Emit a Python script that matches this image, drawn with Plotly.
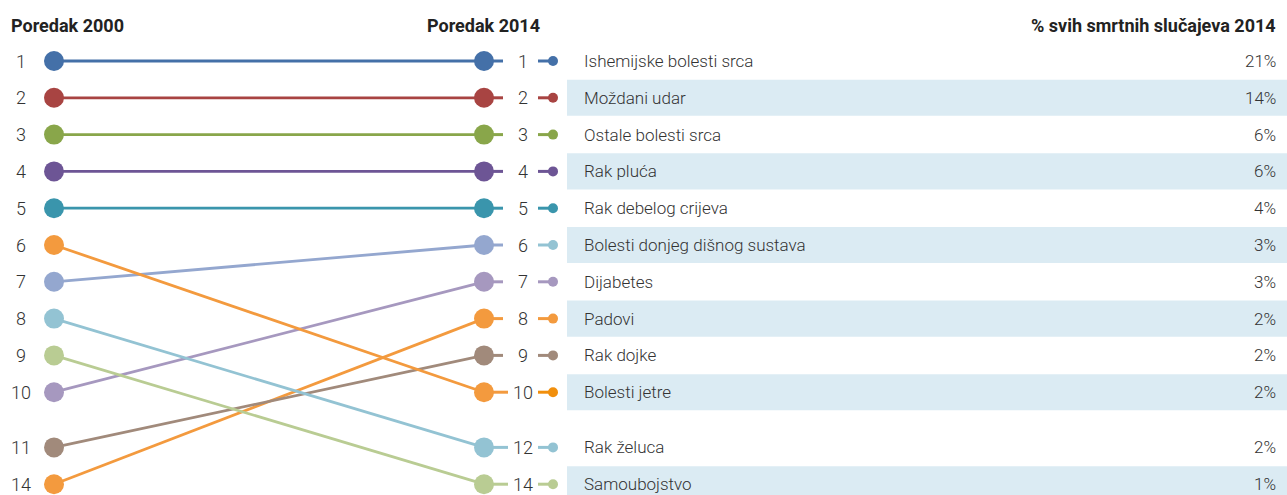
import plotly.graph_objects as go

# ---- data ----
causes = ["Ishemijske bolesti srca", "Moždani udar", "Ostale bolesti srca", "Rak pluća",
          "Rak debelog crijeva", "Bolesti donjeg dišnog sustava", "Dijabetes", "Padovi",
          "Rak dojke", "Bolesti jetre", "Rak želuca", "Samoubojstvo"]
rank_2000 = [1, 2, 3, 4, 5, 7, 10, 14, 11, 6, 8, 9]
rank_2014 = [1, 2, 3, 4, 5, 6, 7, 8, 9, 10, 12, 14]
share_2014 = ["21%", "14%", "6%", "6%", "4%", "3%", "3%", "2%", "2%", "2%", "2%", "1%"]
colors = ["#4470a8", "#a84442", "#89a64a", "#6d5595", "#3a95ac", "#94a7cf", "#a698bf",
          "#f39a3e", "#a18a7b", "#f39a3e", "#93c3d3", "#b9cc93"]
small_colors = ["#4470a8", "#a84442", "#89a64a", "#6d5595", "#3a95ac", "#93c3d3", "#a698bf",
                "#f39a3e", "#a18a7b", "#f18f0c", "#93c3d3", "#b9cc93"]

ticks_2000 = sorted(rank_2000)
ticks_2014 = sorted(rank_2014)


def slot_of(ticks):
    # row positions: one row per rank, extra half-row gap after rank 10
    pos = {}
    for i, r in enumerate(ticks):
        pos[r] = i + (0.5 if i >= 10 else 0)
    return pos


pos2000 = slot_of(ticks_2000)
pos2014 = slot_of(ticks_2014)

FONT = "Roboto, Arial, sans-serif"
TXT = "#333333"

XL, XR = 54, 484
fig = go.Figure()

shapes = []
for i, c in enumerate(causes):
    s = pos2014[rank_2014[i]]
    if i % 2 == 1:
        shapes.append(dict(type="rect", xref="x", yref="y", x0=567, x1=1287,
                           y0=s - 0.49, y1=s + 0.49, fillcolor="#dbebf3",
                           line=dict(width=0), layer="below"))

for i, c in enumerate(causes):
    sl = pos2000[rank_2000[i]]
    sr = pos2014[rank_2014[i]]
    col = colors[i]
    wide = rank_2014[i] >= 10
    fig.add_trace(go.Scatter(x=[XR, 508 if wide else 503], y=[sr, sr], mode="lines",
                             line=dict(color=col, width=3), hoverinfo="skip", showlegend=False))
    fig.add_trace(go.Scatter(x=[XL, XR], y=[sl, sr], mode="lines+markers",
                             line=dict(color=col, width=2.8),
                             marker=dict(size=20, color=col), name=c, showlegend=False))
    fig.add_trace(go.Scatter(x=[538, 553], y=[sr, sr], mode="lines",
                             line=dict(color=small_colors[i], width=3),
                             hoverinfo="skip", showlegend=False))
    fig.add_trace(go.Scatter(x=[553], y=[sr], mode="markers",
                             marker=dict(size=10, color=small_colors[i]),
                             hoverinfo="skip", showlegend=False))

ann = []
for r in ticks_2000:
    ann.append(dict(x=21, y=pos2000[r], text=str(r), showarrow=False, xanchor="center",
                    yanchor="middle", font=dict(size=18, color=TXT, family=FONT, weight=300)))
for r in ticks_2014:
    ann.append(dict(x=523, y=pos2014[r], text=str(r), showarrow=False, xanchor="center",
                    yanchor="middle", font=dict(size=18, color=TXT, family=FONT, weight=300)))
for i, c in enumerate(causes):
    s = pos2014[rank_2014[i]]
    ann.append(dict(x=582, y=s, text=c, showarrow=False, xanchor="left", yanchor="middle",
                    font=dict(size=17, color=TXT, family=FONT, weight=300)))
    ann.append(dict(x=1278, y=s, text=share_2014[i], showarrow=False, xanchor="right",
                    yanchor="middle", font=dict(size=17, color=TXT, family=FONT, weight=300)))

hy = -61 / 36.8 + 25 / 36.8
ann.append(dict(x=9, y=hy, text="<b>Poredak 2000</b>", showarrow=False, xanchor="left",
                yanchor="middle", font=dict(size=18, color="#222", family=FONT)))
ann.append(dict(x=542, y=hy, text="<b>Poredak 2014</b>", showarrow=False, xanchor="right",
                yanchor="middle", font=dict(size=18, color="#222", family=FONT)))
ann.append(dict(x=1278, y=hy, text="<b>% svih smrtnih slučajeva 2014</b>", showarrow=False,
                xanchor="right", yanchor="middle", font=dict(size=18, color="#222", family=FONT)))

fig.update_layout(
    width=1287, height=495, margin=dict(l=0, r=0, t=0, b=0),
    paper_bgcolor="white", plot_bgcolor="white",
    xaxis=dict(range=[0, 1287], visible=False, fixedrange=True),
    yaxis=dict(range=[(495 - 61) / 36.8, -61 / 36.8], visible=False, fixedrange=True),
    shapes=shapes, annotations=ann, showlegend=False,
)

fig.write_html("out.html", config={"displayModeBar": False},
               post_script="document.body.style.margin='0';document.body.style.overflow='hidden';")
